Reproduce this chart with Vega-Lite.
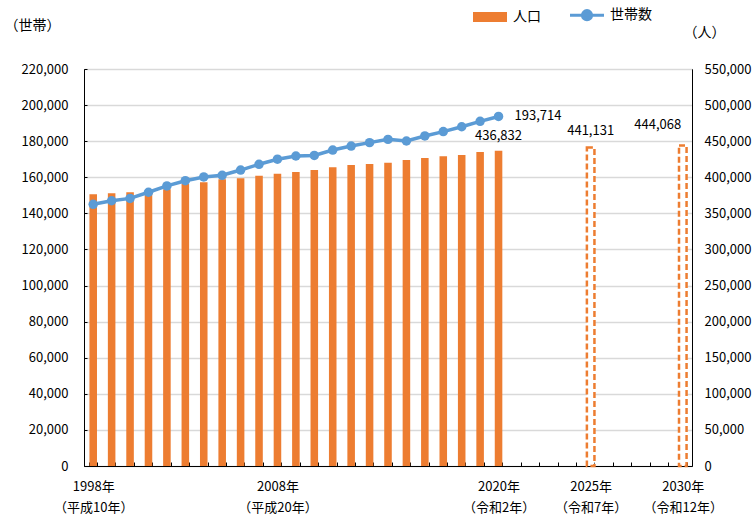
{
  "$schema": "https://vega.github.io/schema/vega-lite/v6.json",
  "width": 608,
  "height": 397,
  "autosize": {"type": "none"},
  "padding": {"left": 84, "top": 69, "right": 64, "bottom": 51},
  "config": {
    "font": "Noto Sans CJK JP",
    "view": {"stroke": "#222", "strokeWidth": 1},
    "axis": {"labelFont": "Noto Sans CJK JP", "labelFontSize": 13, "labelColor": "#000", "domainColor": "#000", "tickColor": "#000", "titleFont": "Noto Sans CJK JP", "titleFontSize": 14, "titleColor": "#000", "titleFontWeight": "normal"},
    "legend": {"labelFont": "Noto Sans CJK JP"}
  },
  "data": {
    "values": [
      {"year": "1998", "pop": 376400, "hh": 145000, "kind": "actual"},
      {"year": "1999", "pop": 377800, "hh": 147000, "kind": "actual"},
      {"year": "2000", "pop": 379200, "hh": 148300, "kind": "actual"},
      {"year": "2001", "pop": 381000, "hh": 151700, "kind": "actual"},
      {"year": "2002", "pop": 383500, "hh": 155200, "kind": "actual"},
      {"year": "2003", "pop": 390800, "hh": 158100, "kind": "actual"},
      {"year": "2004", "pop": 393200, "hh": 160200, "kind": "actual"},
      {"year": "2005", "pop": 397200, "hh": 161100, "kind": "actual"},
      {"year": "2006", "pop": 398600, "hh": 164000, "kind": "actual"},
      {"year": "2007", "pop": 402200, "hh": 167200, "kind": "actual"},
      {"year": "2008", "pop": 405000, "hh": 170000, "kind": "actual"},
      {"year": "2009", "pop": 407300, "hh": 171800, "kind": "actual"},
      {"year": "2010", "pop": 410000, "hh": 172100, "kind": "actual"},
      {"year": "2011", "pop": 413800, "hh": 175100, "kind": "actual"},
      {"year": "2012", "pop": 417000, "hh": 177300, "kind": "actual"},
      {"year": "2013", "pop": 418400, "hh": 179200, "kind": "actual"},
      {"year": "2014", "pop": 420200, "hh": 181000, "kind": "actual"},
      {"year": "2015", "pop": 424000, "hh": 180100, "kind": "actual"},
      {"year": "2016", "pop": 426700, "hh": 182900, "kind": "actual"},
      {"year": "2017", "pop": 429000, "hh": 185300, "kind": "actual"},
      {"year": "2018", "pop": 430900, "hh": 188000, "kind": "actual"},
      {"year": "2019", "pop": 435000, "hh": 191000, "kind": "actual"},
      {"year": "2020", "pop": 436832, "hh": 193714, "kind": "actual"},
      {"year": "2025", "pop": 441131, "hh": null, "kind": "projection"},
      {"year": "2030", "pop": 444068, "hh": null, "kind": "projection"}
    ]
  },
  "encoding": {
    "x": {
      "field": "year",
      "type": "ordinal",
      "scale": {
        "domain": ["1998","1999","2000","2001","2002","2003","2004","2005","2006","2007","2008","2009","2010","2011","2012","2013","2014","2015","2016","2017","2018","2019","2020","2021","2022","2023","2024","2025","2026","2027","2028","2029","2030"],
        "paddingInner": 0.59,
        "paddingOuter": 0.295
      },
      "axis": {
        "title": null,
        "labelAngle": 0,
        "tickBand": "extent",
        "tickSize": -4,
        "labelPadding": 18,
        "labelLineHeight": 21,
        "labelOverlap": false,
        "labelBound": false,
        "labelBaseline": "top",
        "labelExpr": "datum.value == '1998' ? ['1998年','（平成10年）'] : datum.value == '2008' ? ['2008年','（平成20年）'] : datum.value == '2020' ? ['2020年','（令和2年）'] : datum.value == '2025' ? ['2025年','（令和7年）'] : datum.value == '2030' ? ['2030年','（令和12年）'] : ''"
      }
    }
  },
  "layer": [
    {
      "encoding": {
        "y": {
          "field": "pop",
          "type": "quantitative",
          "scale": {"domain": [0, 550000], "nice": false},
          "axis": {"orient": "right", "title": "（人）", "titleAngle": 0, "titleX": 12, "titleY": -37, "titleAlign": "center", "titleBaseline": "middle", "values": [0,50000,100000,150000,200000,250000,300000,350000,400000,450000,500000,550000], "format": ",.0f", "grid": false, "ticks": false, "labelPadding": 12, "domain": true}
        }
      },
      "layer": [
        {
          "transform": [{"filter": "datum.kind == 'actual'"}],
          "mark": {"type": "bar"},
          "encoding": {"color": {"datum": "人口"}}
        },
        {
          "transform": [{"filter": "datum.kind == 'projection'"}],
          "mark": {"type": "bar", "fill": "#ffffff", "stroke": "#ED7D31", "strokeWidth": 2.5, "strokeDash": [6, 3]}
        },
        {
          "transform": [{"filter": "datum.year == '2020'"}],
          "mark": {"type": "text", "dy": -15, "fontSize": 13, "color": "#000", "baseline": "middle"},
          "encoding": {"text": {"field": "pop", "type": "quantitative", "format": ",.0f"}}
        },
        {
          "transform": [{"filter": "datum.year == '2025'"}],
          "mark": {"type": "text", "dy": -17, "fontSize": 13, "color": "#000", "baseline": "middle"},
          "encoding": {"text": {"field": "pop", "type": "quantitative", "format": ",.0f"}}
        },
        {
          "transform": [{"filter": "datum.year == '2030'"}],
          "mark": {"type": "text", "dy": -20, "dx": -25, "fontSize": 13, "color": "#000", "baseline": "middle"},
          "encoding": {"text": {"field": "pop", "type": "quantitative", "format": ",.0f"}}
        }
      ]
    },
    {
      "transform": [{"filter": "datum.kind == 'actual'"}],
      "encoding": {
        "y": {
          "field": "hh",
          "type": "quantitative",
          "scale": {"domain": [0, 220000], "nice": false},
          "axis": {"orient": "left", "title": "（世帯）", "titleAngle": 0, "titleX": -52, "titleY": -44, "titleAlign": "center", "titleBaseline": "middle", "values": [0,20000,40000,60000,80000,100000,120000,140000,160000,180000,200000,220000], "format": ",.0f", "grid": true, "gridColor": "#d9d9d9", "gridWidth": 1.3, "tickSize": -3, "labelPadding": 19}
        }
      },
      "layer": [
        {
          "mark": {"type": "line", "strokeWidth": 3.5, "point": {"filled": true, "size": 90}},
          "encoding": {
            "color": {
              "datum": "世帯数",
              "scale": {"domain": ["人口", "世帯数"], "range": ["#ED7D31", "#5B9BD5"]},
              "legend": {
                "orient": "none",
                "legendX": 399,
                "legendY": -61,
                "direction": "horizontal",
                "title": null,
                "labelFontSize": 14,
                "labelColor": "#000",
                "symbolSize": 1156,
                "columnPadding": 23,
                "labelOffset": 16,
                "encode": {
                  "symbols": {
                    "update": {
                      "shape": {"signal": "datum.value === '人口' ? 'M-1,-0.3H1V0.3H-1Z' : 'M-1,0H1M0.27,0A0.27,0.27,0,1,1,-0.27,0A0.27,0.27,0,1,1,0.27,0Z'"},
                      "fill": {"signal": "datum.value === '人口' ? '#ED7D31' : '#5B9BD5'"},
                      "stroke": {"signal": "datum.value === '人口' ? '#ED7D31' : '#5B9BD5'"},
                      "strokeWidth": {"signal": "datum.value === '人口' ? 0 : 3"},
                      "opacity": {"value": 1},
                      "fillOpacity": {"value": 1}
                    }
                  }
                }
              }
            }
          }
        },
        {
          "transform": [{"filter": "datum.year == '2020'"}],
          "mark": {"type": "text", "align": "left", "dx": 16, "fontSize": 13, "color": "#000", "baseline": "middle"},
          "encoding": {"text": {"field": "hh", "type": "quantitative", "format": ",.0f"}}
        }
      ]
    }
  ],
  "resolve": {"scale": {"y": "independent"}}
}
